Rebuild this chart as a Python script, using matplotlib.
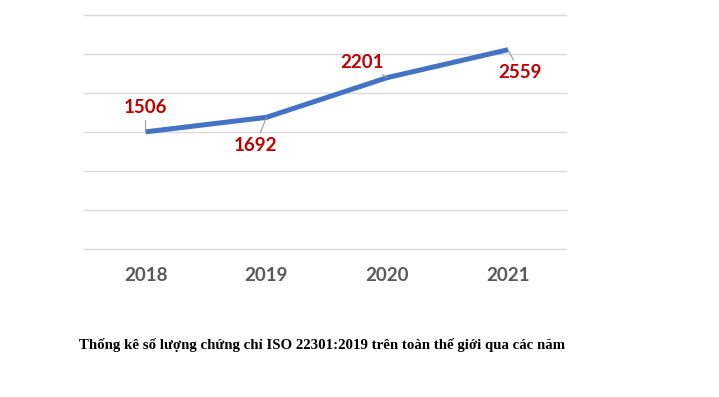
import matplotlib
matplotlib.use("Agg")
import matplotlib.pyplot as plt

# số liệu chứng chỉ ISO 22301:2019 theo năm
years = ["2018", "2019", "2020", "2021"]
counts = [1506, 1692, 2201, 2559]
# vị trí nhãn dữ liệu (offset theo điểm ảnh so với điểm)
label_offsets = [(0, 24), (-11, -28), (-25, 15), (12, -23)]

caption = "Thống kê số lượng chứng chỉ ISO 22301:2019 trên toàn thế giới qua các năm"

fig = plt.figure(figsize=(7.19, 3.97), dpi=100)
ax = fig.add_axes([0.1168, 0.372, 0.6704, 0.5894])

x = range(len(years))
ax.plot(x, counts, color="#4472C4", lw=3.6, solid_capstyle="butt", zorder=3)

for xi, v, (dx, dy) in zip(x, counts, label_offsets):
    ax.annotate(str(v), xy=(xi, v), xytext=(dx * 0.72, dy * 0.72),
                textcoords="offset points", ha="center", va="center",
                color="#C00000", fontsize=13.5, fontweight="bold",
                family="Lato",
                arrowprops=dict(arrowstyle="-", color="#9A9A9A", lw=0.8,
                                shrinkA=1, shrinkB=0))

ax.set_xlim(-0.51, 3.48)
ax.set_ylim(0, 3000)
ax.set_yticks(range(0, 3001, 500))
ax.set_yticklabels([])
ax.tick_params(axis="y", length=0)
ax.grid(axis="y", color="#D9D9D9", lw=1.0)
for gl in ax.get_ygridlines():
    gl.set_clip_on(False)
ax.set_axisbelow(True)
ax.set_xticks(list(x))
ax.set_xticklabels(years, family="Lato", fontsize=13.5, fontweight="bold",
                   color="#595959")
ax.tick_params(axis="x", length=0, pad=13)
for s in ax.spines.values():
    s.set_visible(False)

fig.text(0.4485, 0.131, caption, ha="center", va="center",
         family="Liberation Serif", fontweight="bold", fontsize=10.7)

fig.savefig("out.png", dpi=100)
